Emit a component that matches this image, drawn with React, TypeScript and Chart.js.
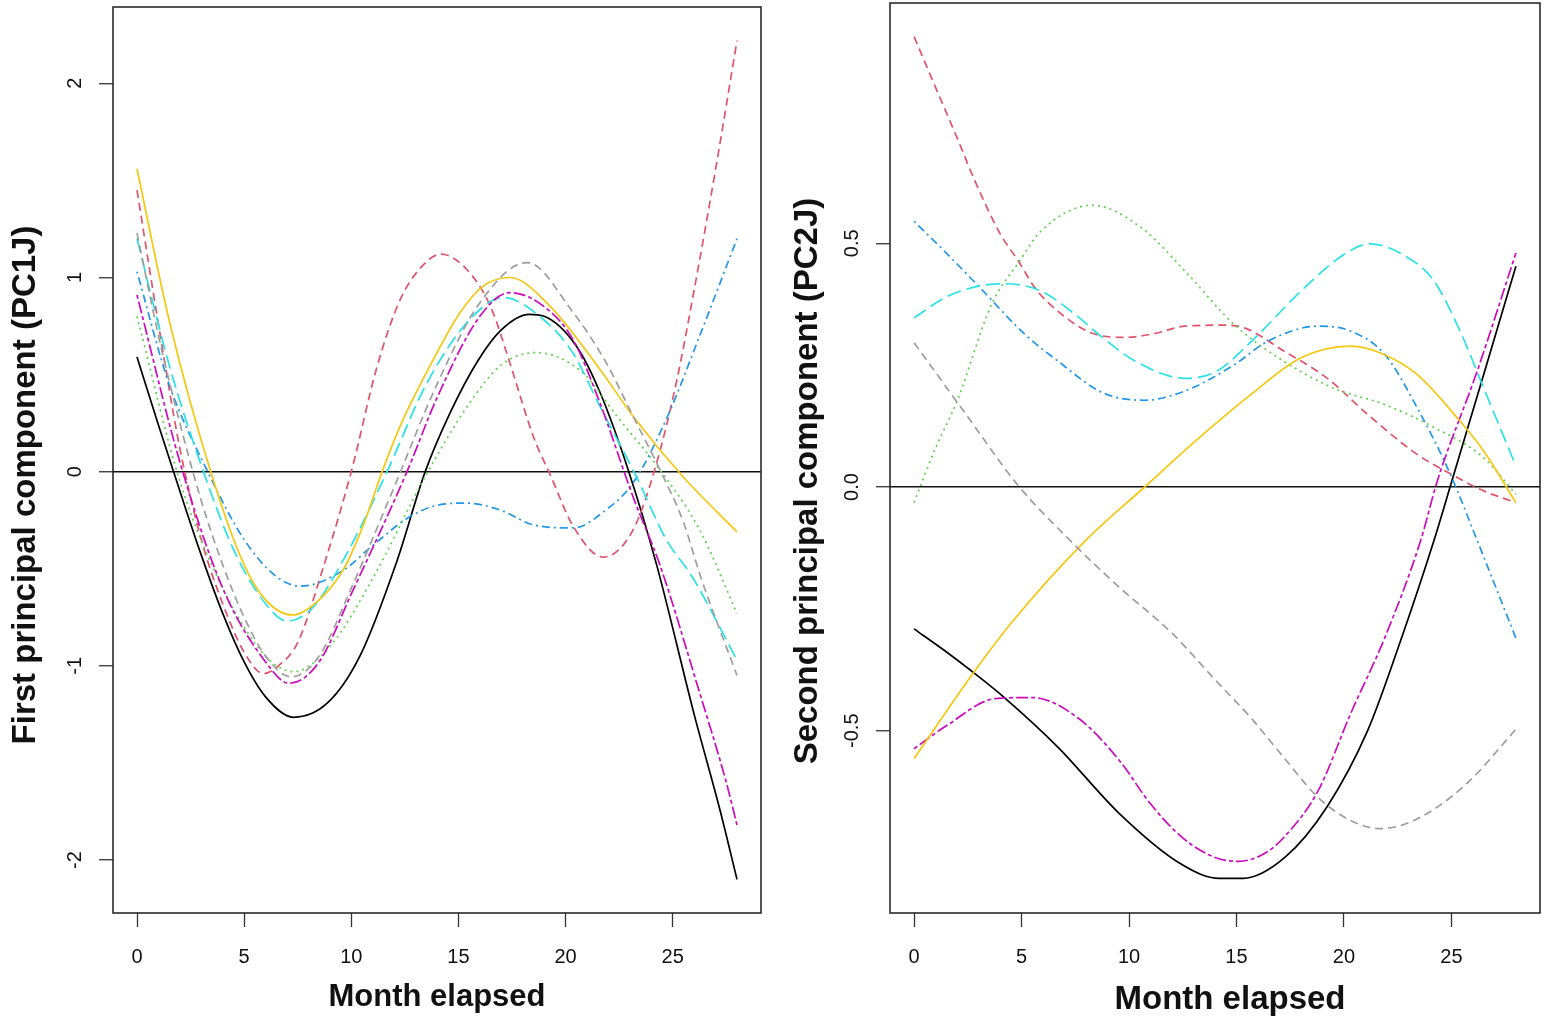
import React, { useEffect, useRef } from 'react';
import { Chart, registerables } from 'chart.js';

Chart.register(...registerables);

// ---------- tick labels ----------
const xTicks = [0, 5, 10, 15, 20, 25];
const pc1Ticks = [-2, -1, 0, 1, 2];
const pc2Ticks = [-0.5, 0, 0.5];

// ---------- series style (R palette, lty 1..6 cycling) ----------
const seriesColors = ['#000000', '#DF536B', '#61D04F', '#2297E6', '#28E2E5', '#CD0BBC', '#F5C710', '#9E9E9E'];
const seriesDashes = [[], [8, 5], [2, 4], [2, 4, 8, 4], [14, 6], [4, 3, 12, 3], [], [8, 5]];

// ---------- First principal component (PC1J) ----------
const pc1BlackMonths = [0, 1, 2, 3, 4, 5, 6, 7.3, 8.9, 10.4, 12.1, 13.45, 14.6, 15.9, 17, 18.3, 19, 20.5, 21.6, 22.95, 24.25, 26, 27.2, 28];
const pc1BlackValues = [0.59, 0.24, -0.1, -0.43, -0.73, -0.98, -1.16, -1.265, -1.19, -0.95, -0.47, 0, 0.3, 0.57, 0.73, 0.81, 0.8, 0.647, 0.41, 0, -0.48, -1.25, -1.74, -2.1];

const pc1RedMonths = [0, 1, 2, 3, 4, 5, 5.9, 6.6, 7.5, 8.7, 10, 11.2, 12.3, 13.5, 14.2, 15.4, 16.5, 17.4, 18.5, 19.3, 20.35, 21.75, 23.15, 24.25, 25.2, 25.95, 27.03, 28];
const pc1RedValues = [1.45, 0.76, 0.12, -0.35, -0.68, -0.93, -1.04, -1.0, -0.88, -0.49, 0, 0.54, 0.89, 1.08, 1.12, 1.04, 0.85, 0.56, 0.18, -0.02, -0.28, -0.44, -0.3, 0.045, 0.475, 0.905, 1.576, 2.22];

const pc1GreenMonths = [0, 2, 4, 6, 7.32, 9, 11, 13.45, 15.5, 17, 18.65, 20.8, 22.4, 24.4, 26.26, 28];
const pc1GreenValues = [0.8, -0.05, -0.6, -0.95, -1.03, -0.9, -0.55, -0.025, 0.35, 0.55, 0.613, 0.51, 0.285, 0.01, -0.3, -0.73];

const pc1BlueMonths = [0, 1.5, 3.3, 5, 6.5, 7.64, 9.65, 11, 12.76, 14.15, 15.4, 17, 18.5, 20.35, 21.9, 23.15, 24.7, 26.26, 28];
const pc1BlueValues = [1.03, 0.45, 0, -0.35, -0.54, -0.59, -0.506, -0.38, -0.23, -0.17, -0.162, -0.2, -0.274, -0.29, -0.196, -0.058, 0.27, 0.7, 1.2];

const pc1CyanMonths = [0, 1.5, 3.1, 4.5, 6, 7, 8.2, 9.8, 11.67, 13.5, 15.5, 17.1, 18.95, 20.35, 21.6, 23.3, 24.7, 25.9, 28];
const pc1CyanValues = [1.2, 0.55, 0, -0.4, -0.68, -0.77, -0.7, -0.42, 0, 0.45, 0.78, 0.897, 0.785, 0.61, 0.337, -0.025, -0.35, -0.54, -0.97];

const pc1MagentaMonths = [0, 2, 4, 6, 7.09, 8.5, 10, 12.6, 14, 16, 17.4, 19, 20.35, 21.6, 23.15, 24.4, 26.26, 27.5, 28];
const pc1MagentaValues = [0.91, 0.05, -0.6, -0.98, -1.09, -0.98, -0.63, 0, 0.38, 0.8, 0.922, 0.85, 0.68, 0.355, -0.13, -0.48, -1.14, -1.6, -1.82];

const pc1YellowMonths = [0, 1.5, 3.44, 5, 6, 7.25, 8.5, 9.65, 10.58, 11.44, 12.3, 13.84, 15.08, 16.17, 17.4, 19.27, 21.6, 23.15, 25.47, 28];
const pc1YellowValues = [1.56, 0.78, 0, -0.48, -0.66, -0.738, -0.66, -0.5, -0.27, 0, 0.24, 0.58, 0.82, 0.957, 1.0, 0.853, 0.527, 0.285, -0.025, -0.31];

const pc1GrayMonths = [0, 1, 2, 3, 4, 5, 6, 7.2, 8.5, 10, 12, 14, 16, 18.2, 20.35, 21.9, 23.15, 24.4, 25.5, 26.3, 28];
const pc1GrayValues = [1.23, 0.7, 0.25, -0.15, -0.48, -0.75, -0.95, -1.057, -0.95, -0.6, -0.08, 0.45, 0.87, 1.077, 0.82, 0.56, 0.285, 0.01, -0.26, -0.54, -1.05];

// ---------- Second principal component (PC2J) ----------
const pc2BlackMonths = [0, 1.4, 2.83, 4.2, 6.7, 9.55, 12.4, 14.2, 15.3, 17.25, 19.2, 21.1, 22.63, 24.18, 24.95, 26.5, 28];
const pc2BlackValues = [-0.291, -0.335, -0.383, -0.432, -0.534, -0.67, -0.773, -0.803, -0.803, -0.76, -0.657, -0.5, -0.316, -0.111, 0.002, 0.231, 0.453];

const pc2RedMonths = [0, 1, 2.07, 2.84, 4, 4.86, 5.63, 6.71, 8.26, 9.8, 11.2, 12.6, 14.4, 15.4, 17.2, 19.2, 21.1, 23.4, 25, 26.5, 28];
const pc2RedValues = [0.924, 0.82, 0.709, 0.627, 0.52, 0.463, 0.408, 0.36, 0.316, 0.307, 0.315, 0.33, 0.332, 0.326, 0.279, 0.224, 0.149, 0.067, 0.026, -0.008, -0.032];

const pc2GreenMonths = [0, 1, 2, 3.6, 4.9, 5.9, 8.3, 10.6, 12.6, 14.9, 17.2, 19.5, 21.9, 24.2, 26.5, 28];
const pc2GreenValues = [-0.032, 0.08, 0.176, 0.374, 0.463, 0.525, 0.578, 0.531, 0.443, 0.333, 0.258, 0.203, 0.169, 0.122, 0.06, -0.015];

const pc2BlueMonths = [0, 1.5, 3, 5.16, 6.7, 8.8, 10.7, 12.6, 14.9, 16.45, 18.8, 20.3, 21.9, 23.4, 24.95, 26.2, 28];
const pc2BlueValues = [0.545, 0.48, 0.412, 0.313, 0.258, 0.193, 0.178, 0.197, 0.251, 0.299, 0.33, 0.32, 0.272, 0.163, 0.026, -0.11, -0.31];

const pc2CyanMonths = [0, 1.5, 3, 4.2, 5.9, 7.5, 8.7, 10.3, 12.6, 14.1, 15.7, 18, 20, 21.2, 23, 24.2, 25.4, 26.5, 28];
const pc2CyanValues = [0.347, 0.39, 0.412, 0.417, 0.402, 0.354, 0.309, 0.258, 0.223, 0.238, 0.299, 0.402, 0.477, 0.499, 0.47, 0.422, 0.32, 0.203, 0.043];

const pc2MagentaMonths = [0, 1.5, 3.8, 5.5, 7.6, 9.55, 11, 12.5, 14, 15.1, 16.3, 17.2, 18.8, 20.3, 21.9, 23.56, 24.34, 26.2, 28];
const pc2MagentaValues = [-0.537, -0.49, -0.434, -0.432, -0.473, -0.561, -0.65, -0.72, -0.76, -0.768, -0.752, -0.719, -0.623, -0.466, -0.309, -0.111, 0.012, 0.238, 0.48];

const pc2YellowMonths = [0, 2.83, 4.5, 7.95, 10.73, 12.9, 15.68, 18, 20.3, 21.86, 23.4, 25.4, 26.5, 28];
const pc2YellowValues = [-0.557, -0.377, -0.28, -0.111, 0, 0.087, 0.19, 0.265, 0.289, 0.272, 0.231, 0.135, 0.074, -0.032];

const pc2GrayMonths = [0, 2.4, 4.86, 7.2, 9.4, 12, 14.1, 15.7, 17.2, 18.8, 20.3, 21.7, 23.4, 25.7, 28];
const pc2GrayValues = [0.296, 0.15, 0.002, -0.107, -0.2, -0.3, -0.4, -0.475, -0.555, -0.637, -0.684, -0.701, -0.681, -0.609, -0.497];

const pc1Series = [
  [pc1BlackMonths, pc1BlackValues],
  [pc1RedMonths, pc1RedValues],
  [pc1GreenMonths, pc1GreenValues],
  [pc1BlueMonths, pc1BlueValues],
  [pc1CyanMonths, pc1CyanValues],
  [pc1MagentaMonths, pc1MagentaValues],
  [pc1YellowMonths, pc1YellowValues],
  [pc1GrayMonths, pc1GrayValues],
];
const pc2Series = [
  [pc2BlackMonths, pc2BlackValues],
  [pc2RedMonths, pc2RedValues],
  [pc2GreenMonths, pc2GreenValues],
  [pc2BlueMonths, pc2BlueValues],
  [pc2CyanMonths, pc2CyanValues],
  [pc2MagentaMonths, pc2MagentaValues],
  [pc2YellowMonths, pc2YellowValues],
  [pc2GrayMonths, pc2GrayValues],
];

const FONT = '"Liberation Sans", Arial, Helvetica, sans-serif';

const framePlugin = {
  id: 'frame',
  afterDraw(chart: any, _args: any, opts: any) {
    const { ctx, chartArea: a } = chart;
    ctx.save();
    ctx.strokeStyle = '#2a2a2a';
    ctx.lineWidth = 1.6;
    ctx.strokeRect(a.left, a.top, a.right - a.left, a.bottom - a.top);
    ctx.fillStyle = '#111';
    ctx.textAlign = 'center';
    ctx.textBaseline = 'middle';
    ctx.font = `bold ${opts.xFont}px ${FONT}`;
    ctx.fillText(opts.xTitle, opts.xTitleX, opts.xTitleY);
    ctx.translate(opts.yTitleX, opts.yTitleY);
    ctx.rotate(-Math.PI / 2);
    ctx.font = `bold ${opts.yFont}px ${FONT}`;
    ctx.fillText(opts.yTitle, 0, 0);
    ctx.restore();
  },
};

type PanelProps = {
  series: any[];
  yMin: number;
  yMax: number;
  yTicks: number[];
  decimals: number;
  yTitle: string;
  left: number;
  geo: any;
};

function Panel({ series, yMin, yMax, yTicks, decimals, yTitle, left, geo }: PanelProps) {
  const ref = useRef<HTMLCanvasElement | null>(null);
  useEffect(() => {
    if (!ref.current) return;
    const n = series.length;
    const datasets = series.map(([months, values]: any, i: number) => ({
      data: months.map((m: number, k: number) => ({ x: m, y: values[k] })),
      borderColor: seriesColors[i],
      borderDash: seriesDashes[i],
      borderWidth: 1.7,
      pointRadius: 0,
      fill: false,
      cubicInterpolationMode: 'monotone',
      order: n - i,
    }));
    const chart = new Chart(ref.current, {
      type: 'line',
      data: { datasets },
      plugins: [framePlugin],
      options: {
        animation: false,
        responsive: false,
        layout: { padding: { top: geo.top, right: geo.right, left: 0, bottom: 0 } },
        plugins: {
          legend: { display: false },
          tooltip: { enabled: false },
          frame: {
            xTitle: 'Month elapsed',
            xFont: geo.xFont,
            xTitleX: geo.xTitleX,
            xTitleY: geo.xTitleY,
            yTitle,
            yFont: geo.yFont,
            yTitleX: geo.yTitleX,
            yTitleY: geo.yTitleY,
          },
        } as any,
        scales: {
          x: {
            type: 'linear',
            min: -1.12,
            max: 29.12,
            afterBuildTicks: (s: any) => {
              s.ticks = xTicks.map((v) => ({ value: v }));
            },
            afterFit: (s: any) => {
              s.height = geo.bottomH;
              s.paddingLeft = 0;
              s.paddingRight = 0;
            },
            grid: { drawOnChartArea: false, drawTicks: true, tickLength: 14, tickColor: '#333', tickWidth: 1.3 },
            border: { display: false },
            ticks: { font: { size: 20, family: FONT }, color: '#111', padding: 18, maxRotation: 0, autoSkip: false },
          },
          y: {
            type: 'linear',
            min: yMin,
            max: yMax,
            afterBuildTicks: (s: any) => {
              s.ticks = yTicks.map((v) => ({ value: v }));
            },
            afterFit: (s: any) => {
              s.width = geo.leftW;
              s.paddingTop = 0;
              s.paddingBottom = 0;
            },
            grid: {
              color: (c: any) => (c.tick && c.tick.value === 0 ? '#111' : 'rgba(0,0,0,0)'),
              lineWidth: 1.5,
              drawTicks: true,
              tickLength: 14,
              tickColor: '#333',
              tickWidth: 1.3,
            },
            border: { display: false },
            ticks: {
              minRotation: 90,
              maxRotation: 90,
              crossAlign: 'center',
              padding: geo.yPad,
              autoSkip: false,
              font: { size: 20, family: FONT },
              color: '#111',
              callback: (v: any) => (decimals ? Number(v).toFixed(decimals) : String(v)),
            },
          },
        },
      } as any,
    });
    return () => chart.destroy();
  }, []);
  return (
    <canvas
      ref={ref}
      width={775}
      height={1022}
      style={{ position: 'absolute', left, top: 0, width: 775, height: 1022 }}
    />
  );
}

export default function App() {
  return (
    <div style={{ position: 'fixed', left: 0, top: 0, width: 1550, height: 1022, background: '#fff' }}>
      <Panel
        series={pc1Series}
        yMin={-2.273}
        yMax={2.393}
        yTicks={pc1Ticks}
        decimals={0}
        yTitle="First principal component (PC1J)"
        left={0}
        geo={{ top: 7, right: 14, bottomH: 109, leftW: 113, yPad: 15, xFont: 31, yFont: 33, xTitleX: 437, xTitleY: 997, yTitleX: 26, yTitleY: 485 }}
      />
      <Panel
        series={pc2Series}
        yMin={-0.874}
        yMax={0.993}
        yTicks={pc2Ticks}
        decimals={1}
        yTitle="Second principal component (PC2J)"
        left={775}
        geo={{ top: 3, right: 10, bottomH: 109, leftW: 115, yPad: 6, xFont: 33, yFont: 33, xTitleX: 455, xTitleY: 1000, yTitleX: 33, yTitleY: 481 }}
      />
    </div>
  );
}
